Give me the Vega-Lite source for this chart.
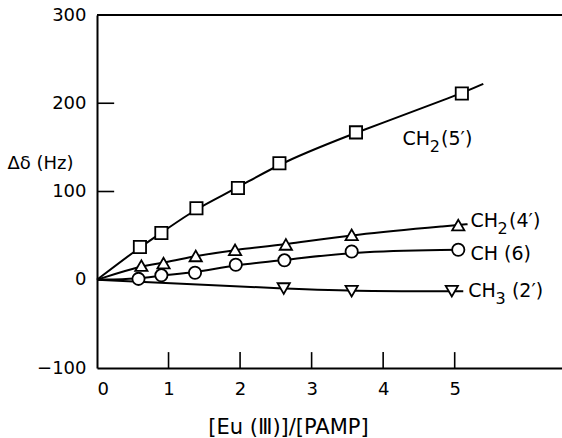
{
  "$schema": "https://vega.github.io/schema/vega-lite/v6.json",
  "width": 465,
  "height": 353,
  "autosize": {"type": "none"},
  "padding": {"left": 97, "top": 15, "right": 0, "bottom": 70},
  "background": "white",
  "config": {"view": {"stroke": null}, "font": "DejaVu Sans"},
  "datasets": {
    "curves": [
      {"s": "CH2(5')", "x": 0, "y": 0, "m": false},
      {"s": "CH2(5')", "x": 0.60, "y": 37, "m": true},
      {"s": "CH2(5')", "x": 0.90, "y": 53, "m": true},
      {"s": "CH2(5')", "x": 1.39, "y": 81, "m": true},
      {"s": "CH2(5')", "x": 1.97, "y": 104, "m": true},
      {"s": "CH2(5')", "x": 2.55, "y": 132, "m": true},
      {"s": "CH2(5')", "x": 3.62, "y": 167, "m": true},
      {"s": "CH2(5')", "x": 5.10, "y": 211, "m": true},
      {"s": "CH2(5')", "x": 5.40, "y": 222, "m": false},
      {"s": "CH2(4')", "x": 0, "y": 0, "m": false},
      {"s": "CH2(4')", "x": 0.62, "y": 16, "m": true},
      {"s": "CH2(4')", "x": 0.93, "y": 19, "m": true},
      {"s": "CH2(4')", "x": 1.38, "y": 27, "m": true},
      {"s": "CH2(4')", "x": 1.93, "y": 34, "m": true},
      {"s": "CH2(4')", "x": 2.64, "y": 40, "m": true},
      {"s": "CH2(4')", "x": 3.56, "y": 51, "m": true},
      {"s": "CH2(4')", "x": 5.05, "y": 62, "m": true},
      {"s": "CH2(4')", "x": 5.18, "y": 63, "m": false},
      {"s": "CH(6)", "x": 0, "y": 0, "m": false},
      {"s": "CH(6)", "x": 0.58, "y": 1, "m": true},
      {"s": "CH(6)", "x": 0.90, "y": 5, "m": true},
      {"s": "CH(6)", "x": 1.37, "y": 8, "m": true},
      {"s": "CH(6)", "x": 1.94, "y": 17, "m": true},
      {"s": "CH(6)", "x": 2.62, "y": 22, "m": true},
      {"s": "CH(6)", "x": 3.56, "y": 32, "m": true},
      {"s": "CH(6)", "x": 5.05, "y": 34, "m": true},
      {"s": "CH3(2')", "x": 0, "y": 0, "m": false},
      {"s": "CH3(2')", "x": 2.61, "y": -10, "m": true},
      {"s": "CH3(2')", "x": 3.56, "y": -13, "m": true},
      {"s": "CH3(2')", "x": 4.96, "y": -13, "m": true},
      {"s": "CH3(2')", "x": 5.12, "y": -13, "m": false}
    ],
    "labels": [
      {"t": "CH", "x": 4.27, "y": 160, "k": "main"},
      {"t": "2", "x": 4.65, "y": 160, "k": "sub"},
      {"t": "(5′)", "x": 4.81, "y": 160, "k": "main"},
      {"t": "CH", "x": 5.22, "y": 67, "k": "main"},
      {"t": "2", "x": 5.60, "y": 67, "k": "sub"},
      {"t": "(4′)", "x": 5.76, "y": 67, "k": "main"},
      {"t": "CH (6)", "x": 5.22, "y": 29, "k": "main"},
      {"t": "CH", "x": 5.19, "y": -13, "k": "main"},
      {"t": "3", "x": 5.57, "y": -13, "k": "sub"},
      {"t": "(2′)", "x": 5.80, "y": -13, "k": "main"}
    ]
  },
  "layer": [
    {
      "data": {"values": [{}]},
      "mark": {"type": "rule", "color": "black", "strokeWidth": 2},
      "encoding": {"y": {"datum": 300, "type": "quantitative", "scale": {"domain": [-100, 300], "nice": false, "zero": false}}}
    },
    {
      "data": {"name": "curves"},
      "mark": {"type": "line", "interpolate": "basis", "color": "black", "strokeWidth": 2},
      "encoding": {
        "x": {
          "field": "x", "type": "quantitative",
          "scale": {"domain": [0, 6.5], "nice": false, "zero": false},
          "axis": {
            "values": [0, 1, 2, 3, 4, 5], "format": "d", "ticks": false,
            "domainColor": "black", "domainWidth": 2, "grid": false,
            "labelFontSize": 18, "labelColor": "black", "labelPadding": 12,
            "title": "[Eu (Ⅲ)]/[PAMP]", "titleFontSize": 21, "titleFontWeight": "normal", "titleColor": "black",
            "titleX": 191, "titleY": 59, "titleAlign": "center", "titleBaseline": "middle"
          }
        },
        "y": {
          "field": "y", "type": "quantitative",
          "scale": {"domain": [-100, 300], "nice": false, "zero": false},
          "axis": {
            "values": [-100, 0, 100, 200, 300], "format": "d", "ticks": false,
            "domainColor": "black", "domainWidth": 2, "grid": false,
            "labelFontSize": 18, "labelColor": "black", "labelPadding": 11,
            "title": "Δδ (Hz)", "titleFontSize": 18, "titleFontWeight": "normal", "titleColor": "black",
            "titleAngle": 0, "titleX": -90, "titleY": 148, "titleAlign": "left", "titleBaseline": "middle"
          }
        },
        "detail": {"field": "s"}
      }
    },
    {
      "data": {"values": [{"v": 100}, {"v": 200}]},
      "mark": {"type": "rule", "color": "black", "strokeWidth": 1.6},
      "encoding": {
        "y": {"field": "v", "type": "quantitative"},
        "x": {"datum": 0, "type": "quantitative"},
        "x2": {"datum": 0.24}
      }
    },
    {
      "data": {"values": [{"v": 1}, {"v": 2}, {"v": 3}, {"v": 4}, {"v": 5}]},
      "mark": {"type": "rule", "color": "black", "strokeWidth": 1.6},
      "encoding": {
        "x": {"field": "v", "type": "quantitative"},
        "y": {"datum": -100, "type": "quantitative"},
        "y2": {"datum": -82}
      }
    },
    {
      "data": {"name": "curves"},
      "transform": [{"filter": "datum.m"}],
      "mark": {"type": "point", "filled": true, "fill": "white", "stroke": "black", "strokeWidth": 1.8, "opacity": 1, "size": 150},
      "encoding": {
        "x": {"field": "x", "type": "quantitative"},
        "y": {"field": "y", "type": "quantitative"},
        "shape": {
          "field": "s", "type": "nominal", "legend": null,
          "scale": {"domain": ["CH2(5')", "CH2(4')", "CH(6)", "CH3(2')"], "range": ["square", "triangle-up", "circle", "triangle-down"]}
        }
      }
    },
    {
      "data": {"name": "labels"},
      "transform": [{"filter": "datum.k == 'main'"}],
      "mark": {"type": "text", "align": "left", "baseline": "middle", "fontSize": 19, "color": "black"},
      "encoding": {
        "x": {"field": "x", "type": "quantitative"},
        "y": {"field": "y", "type": "quantitative"},
        "text": {"field": "t"}
      }
    },
    {
      "data": {"name": "labels"},
      "transform": [{"filter": "datum.k == 'sub'"}],
      "mark": {"type": "text", "align": "left", "baseline": "middle", "fontSize": 16, "dy": 8, "color": "black"},
      "encoding": {
        "x": {"field": "x", "type": "quantitative"},
        "y": {"field": "y", "type": "quantitative"},
        "text": {"field": "t"}
      }
    }
  ]
}
